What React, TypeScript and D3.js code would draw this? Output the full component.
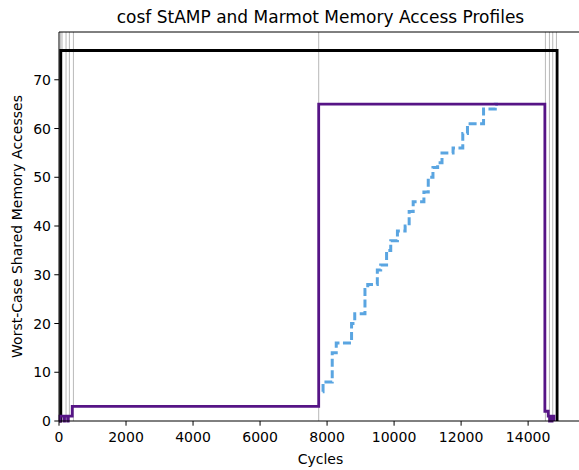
import React from "react";
import * as d3 from "d3";

const W = 579;
const H = 470;

// Marmot profile (step-after)
const marmotX = [0, 30, 150, 165, 260, 275, 395, 7750, 14500, 14600, 14640, 14655, 14700, 14715, 14770];
const marmotY = [0, 1, 0, 1, 0, 1, 3, 65, 2, 1, 0, 1, 0, 1, 0];

// StAMP bound (black)
const stampX = [0, 50, 14865];
const stampY = [0, 76, 0];

// Cumulative accesses (dashed)
const accessX = [7870, 7880, 8154, 8274, 8731, 8826, 9131, 9214, 9500, 9600, 9776, 9900, 10100, 10330, 10450, 10570, 10890, 11020, 11160, 11300, 11430, 11760, 12050, 12190, 12670, 13020, 13100];
const accessY = [6, 8, 14, 16, 20, 22, 27, 28, 31, 32, 35, 37, 39, 40, 43, 45, 47, 50, 52, 53, 55, 56, 59, 61, 64, 65, 65];

// Segment boundary markers
const markers = [50, 90, 210, 310, 430, 7750, 14516, 14636, 14735, 14845];

const xTicks = [0, 2000, 4000, 6000, 8000, 10000, 12000, 14000];
const yTicks = [0, 10, 20, 30, 40, 50, 60, 70];

const title = "cosf StAMP and Marmot Memory Access Profiles";
const xLabel = "Cycles";
const yLabel = "Worst-Case Shared Memory Accesses";

export default function App() {
  const left = 59, right = 582, top = 32, bottom = 421;
  const x = d3.scaleLinear().domain([0, 15608]).range([left, right]);
  const y = d3.scaleLinear().domain([0, 79.8]).range([bottom, top]);
  const step = d3.line<[number, number]>().x(d => x(d[0])).y(d => y(d[1])).curve(d3.curveStepAfter);
  const zip = (a: number[], b: number[]) => a.map((v, i) => [v, b[i]] as [number, number]);
  const font = "DejaVu Sans, sans-serif";

  return (
    <svg width={W} height={H} style={{ position: "absolute", left: 0, top: 0, background: "#fff" }} fontFamily={font}>
      <rect x={0} y={0} width={W} height={H} fill="#fff" />
      {markers.map((m, i) => (
        <line key={i} x1={x(m)} x2={x(m)} y1={y(0)} y2={top} stroke="#9a9a9a" strokeOpacity={0.7} strokeWidth={1} />
      ))}
      <path d={step(zip(stampX, stampY)) || ""} fill="none" stroke="#000" strokeWidth={2.8} />
      <path d={step(zip(accessX, accessY)) || ""} fill="none" stroke="#5aa5e1" strokeWidth={3} strokeDasharray="8,3.5" />
      <path d={step(zip(marmotX, marmotY)) || ""} fill="none" stroke="#561486" strokeWidth={2.8} />
      {/* spines */}
      <line x1={left} x2={left} y1={top} y2={bottom} stroke="#000" strokeWidth={1} />
      <line x1={left} x2={W} y1={bottom} y2={bottom} stroke="#000" strokeWidth={1} />
      <line x1={left} x2={W} y1={top} y2={top} stroke="#000" strokeWidth={1} />
      {xTicks.map(t => (
        <g key={t}>
          <line x1={x(t)} x2={x(t)} y1={bottom} y2={bottom + 4.7} stroke="#000" strokeWidth={1} />
          <text x={x(t)} y={bottom + 21} textAnchor="middle" fontSize={14} fill="#000">{t}</text>
        </g>
      ))}
      {yTicks.map(t => (
        <g key={t}>
          <line x1={left - 4.7} x2={left} y1={y(t)} y2={y(t)} stroke="#000" strokeWidth={1} />
          <text x={left - 8} y={y(t) + 5} textAnchor="end" fontSize={14} fill="#000">{t}</text>
        </g>
      ))}
      <text x={(left + right) / 2} y={464} textAnchor="middle" fontSize={14} fill="#000">{xLabel}</text>
      <text transform={`translate(22, ${(top + bottom) / 2}) rotate(-90)`} textAnchor="middle" fontSize={14} fill="#000">{yLabel}</text>
      <text x={(left + right) / 2} y={23} textAnchor="middle" fontSize={17} fill="#000">{title}</text>
    </svg>
  );
}
